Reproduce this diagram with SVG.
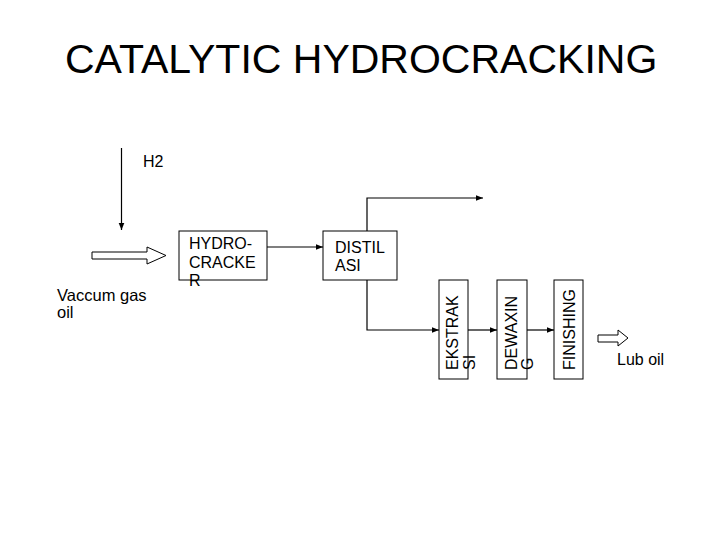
<svg xmlns="http://www.w3.org/2000/svg" width="728" height="546" viewBox="0 0 728 546">
<style>
text{font-family:"Liberation Sans",Arial,sans-serif;fill:#000;font-size:16px}
.title{font-size:41px}
.box{fill:#fff;stroke:#000;stroke-width:1}
.ln{fill:none;stroke:#000;stroke-width:1.2}
.blk{fill:#fff;stroke:#000;stroke-width:1}
</style>
<defs>
<marker id="ah" markerUnits="userSpaceOnUse" markerWidth="8" markerHeight="8" viewBox="0 0 8 8" refX="7" refY="4" orient="auto">
<path d="M0,1.2 L7,4 L0,6.8 Z" fill="#000"/>
</marker>
</defs>
<rect width="728" height="546" fill="#fff"/>
<text class="title" x="65" y="73">CATALYTIC HYDROCRACKING</text>
<g id="connectors">
<line class="ln" x1="121.5" y1="148" x2="121.5" y2="230" marker-end="url(#ah)"/>
<polygon class="blk" points="92,252 147,252 147,247 166,255.5 147,264 147,259 92,259"/>
<line class="ln" x1="267" y1="247" x2="323" y2="247" marker-end="url(#ah)"/>
<polyline class="ln" points="367,231 367,198 483,198" marker-end="url(#ah)"/>
<polyline class="ln" points="367,280 367,330 439,330" marker-end="url(#ah)"/>
<line class="ln" x1="468" y1="330" x2="497" y2="330" marker-end="url(#ah)"/>
<line class="ln" x1="527" y1="330" x2="554" y2="330" marker-end="url(#ah)"/>
<polygon class="blk" points="598,335 618,335 618,330 628,338 618,346 618,342 598,342"/>
</g>
<g id="label-h2"><text x="143" y="167">H2</text></g>
<g id="label-vgo"><text x="57" y="301" style="font-size:16.5px">Vaccum gas</text><text x="57" y="318" style="font-size:16.5px">oil</text></g>
<g id="hydrocracker">
<rect class="box" x="179" y="231" width="88" height="49"/>
<text x="189" y="249">HYDRO-</text>
<text x="189" y="267.5">CRACKE</text>
<text x="189" y="286">R</text>
</g>
<g id="distilasi">
<rect class="box" x="323" y="231" width="74" height="49"/>
<text x="335" y="253">DISTIL</text>
<text x="335" y="271">ASI</text>
</g>
<g id="ekstraksi">
<rect class="box" x="439" y="280" width="29" height="99"/>
<text transform="translate(458,370) rotate(-90)">EKSTRAK</text>
<text transform="translate(475,370) rotate(-90)">SI</text>
</g>
<g id="dewaxing">
<rect class="box" x="497" y="280" width="30" height="99"/>
<text transform="translate(516.5,370) rotate(-90)">DEWAXIN</text>
<text transform="translate(533,370) rotate(-90)">G</text>
</g>
<g id="finishing">
<rect class="box" x="554" y="280" width="29" height="99"/>
<text transform="translate(575,370) rotate(-90)">FINISHING</text>
</g>
<g id="label-luboil"><text x="617" y="365">Lub oil</text></g>
</svg>
